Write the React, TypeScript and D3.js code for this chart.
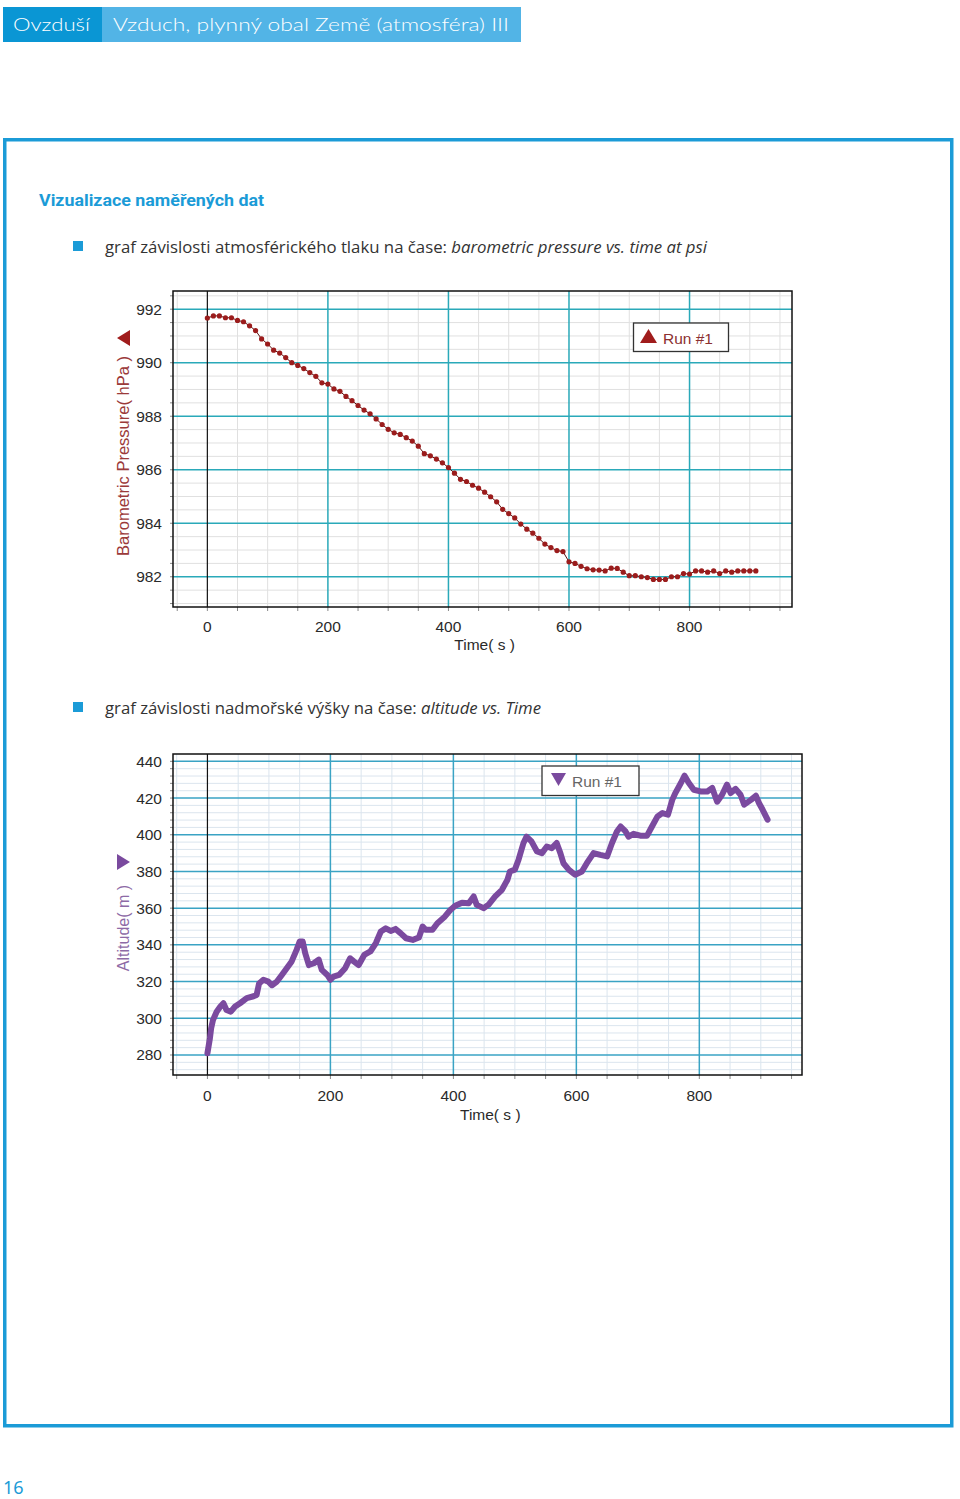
import React from "react";
import * as d3 from "d3";

// ---------- data ----------
const pressureTime = [
  0, 10, 20, 30, 40, 50, 60, 70, 80, 90, 100, 110, 120, 130, 140, 150, 160, 170, 180, 190,
  200, 210, 220, 230, 240, 250, 260, 270, 280, 290, 300, 310, 320, 330, 340, 350, 360, 370, 380, 390,
  400, 410, 420, 430, 440, 450, 460, 470, 480, 490, 500, 510, 520, 530, 540, 550, 560, 570, 580, 590,
  600, 610, 620, 630, 640, 650, 660, 670, 680, 690, 700, 710, 720, 730, 740, 750, 760, 770, 780, 790,
  800, 810, 820, 830, 840, 850, 860, 870, 880, 890, 900, 910,
];
const pressureValues = [
  991.67, 991.75, 991.75, 991.68, 991.68, 991.58, 991.53, 991.38, 991.2, 990.89,
  990.7, 990.47, 990.36, 990.19, 990.0, 989.9, 989.78, 989.63, 989.49, 989.25,
  989.2, 989.02, 988.93, 988.74, 988.58, 988.4, 988.23, 988.09, 987.9, 987.69,
  987.51, 987.38, 987.32, 987.2, 987.07, 986.88, 986.6, 986.52, 986.4, 986.26,
  986.08, 985.87, 985.64, 985.56, 985.42, 985.31, 985.16, 984.99, 984.8, 984.52,
  984.36, 984.2, 983.97, 983.78, 983.63, 983.44, 983.22, 983.09, 982.98, 982.94,
  982.56, 982.5, 982.39, 982.3, 982.26, 982.25, 982.22, 982.32, 982.31, 982.17,
  982.04, 982.04, 982.0, 981.97, 981.9, 981.9, 981.9, 982.0, 982.0, 982.12,
  982.1, 982.22, 982.22, 982.17, 982.22, 982.12, 982.22, 982.17, 982.22, 982.22,
  982.22, 982.22,
];

const altitudeTime = [
  0, 4, 6, 9, 15, 21, 26, 31, 38, 45, 53, 64, 75, 80, 84, 91, 99, 105, 113, 121,
  129, 137, 145, 150, 155, 159, 165, 173, 181, 186, 195, 200, 205, 214, 224, 232, 238, 246, 255, 265,
  274, 282, 290, 298, 306, 314, 323, 334, 344, 350, 355, 366, 374, 385, 395, 403, 414, 425, 433, 438,
  449, 457, 468, 479, 488, 492, 500, 506, 514, 519, 527, 536, 544, 552, 560, 568, 574, 579, 588, 598,
  609, 617, 628, 639, 650, 658, 666, 672, 680, 685, 693, 704, 715, 723, 732, 740, 749, 756, 761, 770,
  776, 783, 791, 802, 813, 821, 829, 837, 845, 851, 859, 867, 873, 884, 892, 897, 903, 911,
];
const altitudeValues = [
  280.9, 289, 294.5, 299, 303.6, 306.4, 308.2, 304.5, 303.6, 306.4, 308.2, 311, 312, 312.7, 319, 321, 320, 318, 320, 323.6,
  327.3, 331, 337.3, 341.8, 341.8, 335.5, 329, 330, 332, 326.4, 323.6, 321, 322.7, 323.6, 327.3, 332.7, 331, 329, 334.5, 336.4,
  341, 347.3, 349, 347.6, 348.7, 346.4, 343.6, 342.7, 344, 350, 348.2, 348.2, 351.8, 355, 359, 361.3, 363, 362.7, 366.4, 361.8,
  360, 361.8, 366.4, 370, 375.5, 380, 381, 386.4, 395.5, 399, 396.4, 390.9, 390, 393.6, 392.7, 395.5, 390, 384.5, 380.9, 378.2,
  380, 384.5, 390, 389, 388.2, 395.5, 401.8, 404.5, 401.8, 399, 400.5, 399.5, 399.5, 404.5, 410, 411.8, 410.9, 419, 422.7, 428.2,
  432.2, 428.2, 424.5, 423.6, 423.6, 425.5, 418, 421.8, 427.3, 422.7, 425, 421.8, 416.4, 419, 421.3, 417.3, 413.6, 408.2,
];

const xTicks = [0, 200, 400, 600, 800];
const pressureTicks = [982, 984, 986, 988, 990, 992];
const altitudeTicks = [280, 300, 320, 340, 360, 380, 400, 420, 440];

const BLUE = "#1b9bd7";
const AXIS_FONT = "'Liberation Sans', Arial, sans-serif";

type ChartProps = {
  left: number; right: number; top: number; bottom: number;
  xDomain: [number, number]; yDomain: [number, number];
  yTicks: number[]; yMinorStep: number;
  majorColor: string; minorColor: string;
  children: (x: d3.ScaleLinear<number, number>, y: d3.ScaleLinear<number, number>) => React.ReactNode;
  yLabel: string; yLabelColor: string; yLabelCenter: number; yLabelSize: number;
  triangle: "left" | "right"; triColor: string; triY: number;
  xLabelY: number; timeLabelY: number;
};

function Chart(p: ChartProps) {
  const x = d3.scaleLinear().domain(p.xDomain).range([p.left, p.right]);
  const y = d3.scaleLinear().domain(p.yDomain).range([p.bottom, p.top]);
  const minorX = d3.range(-50, p.xDomain[1], 50).filter((v) => v % 200 !== 0);
  const yStart = Math.ceil(p.yDomain[0] / p.yMinorStep) * p.yMinorStep;
  const minorY = d3.range(yStart, p.yDomain[1], p.yMinorStep).filter((v) => !p.yTicks.some((t) => Math.abs(t - v) < 1e-6));
  const bottomTicks = d3.range(-50, p.xDomain[1], 50);
  const triPts = p.triangle === "left"
    ? `${117},${p.triY} ${130},${p.triY - 8} ${130},${p.triY + 8}`
    : `${130},${p.triY} ${117},${p.triY - 8} ${117},${p.triY + 8}`;
  return (
    <g>
      <rect x={p.left} y={p.top} width={p.right - p.left} height={p.bottom - p.top} fill="#fff" />
      {minorX.map((v) => (
        <line key={"mx" + v} x1={x(v)} x2={x(v)} y1={p.top} y2={p.bottom} stroke={p.minorColor} strokeWidth={1} />
      ))}
      {minorY.map((v) => (
        <line key={"my" + v} x1={p.left} x2={p.right} y1={y(v)} y2={y(v)} stroke={p.minorColor} strokeWidth={1} />
      ))}
      {xTicks.filter((v) => v !== 0).map((v) => (
        <line key={"Mx" + v} x1={x(v)} x2={x(v)} y1={p.top} y2={p.bottom} stroke={p.majorColor} strokeWidth={1.5} />
      ))}
      {p.yTicks.map((v) => (
        <line key={"My" + v} x1={p.left} x2={p.right} y1={y(v)} y2={y(v)} stroke={p.majorColor} strokeWidth={1.5} />
      ))}
      <line x1={x(0)} x2={x(0)} y1={p.top} y2={p.bottom} stroke="#111" strokeWidth={1.2} />
      {bottomTicks.map((v) => (
        <line key={"bt" + v} x1={x(v)} x2={x(v)} y1={p.bottom} y2={p.bottom + 4} stroke="#888" strokeWidth={1} />
      ))}
      {minorY.concat(p.yTicks).map((v) => (
        <line key={"lt" + v} x1={p.left - 3} x2={p.left} y1={y(v)} y2={y(v)} stroke="#888" strokeWidth={1} />
      ))}
      {p.children(x, y)}
      <rect x={p.left} y={p.top} width={p.right - p.left} height={p.bottom - p.top} fill="none" stroke="#111" strokeWidth={1.5} />
      {p.yTicks.map((v) => (
        <text key={"yl" + v} x={p.left - 11} y={y(v) + 5.5} textAnchor="end" fontFamily={AXIS_FONT} fontSize={15.5} fill="#2a2a2a">{v}</text>
      ))}
      {xTicks.map((v) => (
        <text key={"xl" + v} x={x(v)} y={p.xLabelY} textAnchor="middle" fontFamily={AXIS_FONT} fontSize={15.5} fill="#2a2a2a">{v}</text>
      ))}
      <text x={x(460)} y={p.timeLabelY} textAnchor="middle" fontFamily={AXIS_FONT} fontSize={15.5} fill="#2a2a2a">Time( s )</text>
      <text transform={`translate(129,${p.yLabelCenter}) rotate(-90)`} textAnchor="middle" fontFamily={AXIS_FONT} fontSize={p.yLabelSize} fill={p.yLabelColor}>{p.yLabel}</text>
      <polygon points={triPts} fill={p.triColor} />
    </g>
  );
}

export default function App() {
  return (
    <svg width={960} height={1499} style={{ position: "absolute", left: 0, top: 0, background: "#fff" }}>
      {/* header */}
      <rect x={3} y={7} width={99} height={35} fill="#0a96d4" />
      <rect x={102} y={7} width={419} height={35} fill="#52b4e6" />
      <text x={13} y={31} fill="#fff" fontFamily="Lato, 'Noto Sans', sans-serif" fontWeight={300} fontSize={18} textLength={77} lengthAdjust="spacingAndGlyphs">Ovzduší</text>
      <text x={113} y={31} fill="#fff" fontFamily="Lato, 'Noto Sans', sans-serif" fontWeight={300} fontSize={18} textLength={396} lengthAdjust="spacingAndGlyphs">Vzduch, plynný obal Země (atmosféra) III</text>

      {/* frame */}
      <rect x={4.75} y={139.75} width={947} height={1286} fill="none" stroke={BLUE} strokeWidth={3.5} />

      <text x={39} y={206} fill={BLUE} fontFamily="Roboto, sans-serif" fontWeight={700} fontSize={16.5} textLength={225} lengthAdjust="spacingAndGlyphs">Vizualizace naměřených dat</text>

      <rect x={73} y={241} width={10} height={10} fill={BLUE} />
      <text x={105} y={253} fill="#333" fontFamily="'Open Sans', sans-serif" fontSize={16} textLength={602} lengthAdjust="spacingAndGlyphs">
        graf závislosti atmosférického tlaku na čase: <tspan fontStyle="italic">barometric pressure vs. time at psi</tspan>
      </text>

      <rect x={73} y={702} width={10} height={10} fill={BLUE} />
      <text x={105} y={714} fill="#333" fontFamily="'Open Sans', sans-serif" fontSize={16} textLength={436} lengthAdjust="spacingAndGlyphs">
        graf závislosti nadmořské výšky na čase: <tspan fontStyle="italic">altitude vs. Time</tspan>
      </text>

      {/* chart 1 */}
      <Chart left={173} right={792} top={291} bottom={607} xDomain={[-57, 970]} yDomain={[980.87, 992.68]}
        yTicks={pressureTicks} yMinorStep={0.5} majorColor="#2aa9b9" minorColor="#e0e0e0"
        yLabel="Barometric Pressure( hPa )" yLabelColor="#9b3a3a" yLabelCenter={456} yLabelSize={16.5}
        triangle="left" triColor="#a01c1c" triY={338}
        xLabelY={632} timeLabelY={650}>
        {(x, y) => {
          const line = d3.line<number>().x((_, i) => x(pressureTime[i])).y((d) => y(d));
          return (
            <g>
              <path d={line(pressureValues) || ""} fill="none" stroke="#5a1010" strokeWidth={1} />
              {pressureValues.map((v, i) => (
                <circle key={i} cx={x(pressureTime[i])} cy={y(v)} r={2.6} fill="#9b1c1c" />
              ))}
              <rect x={633.5} y={323} width={95} height={28.5} fill="#fff" stroke="#333" strokeWidth={1.3} />
              <polygon points="640,343 657,343 648.5,329" fill="#a01c1c" />
              <text x={663} y={344} fontFamily={AXIS_FONT} fontSize={15.5} fill="#8b3030">Run #1</text>
            </g>
          );
        }}
      </Chart>

      {/* chart 2 */}
      <Chart left={173} right={802} top={754} bottom={1075} xDomain={[-56, 967]} yDomain={[269.1, 444]}
        yTicks={altitudeTicks} yMinorStep={4} majorColor="#3aa3c4" minorColor="#dbe5ee"
        yLabel="Altitude( m )" yLabelColor="#8d6aa6" yLabelCenter={928} yLabelSize={16}
        triangle="right" triColor="#7a4a9e" triY={862}
        xLabelY={1101} timeLabelY={1120}>
        {(x, y) => {
          const line = d3.line<number>().x((_, i) => x(altitudeTime[i])).y((d) => y(d));
          return (
            <g>
              <path d={line(altitudeValues) || ""} fill="none" stroke="#7b4a9f" strokeWidth={6} strokeLinejoin="round" strokeLinecap="round" />
              <rect x={542} y={766} width={97} height={29.5} fill="#fff" stroke="#333" strokeWidth={1.3} />
              <polygon points="551,773 566,773 558.5,786" fill="#7a4a9e" />
              <text x={572} y={787} fontFamily={AXIS_FONT} fontSize={15.5} fill="#666">Run #1</text>
            </g>
          );
        }}
      </Chart>

      <text x={3} y={1494} fill={BLUE} fontFamily="'Noto Sans', sans-serif" fontSize={18}>16</text>
    </svg>
  );
}
